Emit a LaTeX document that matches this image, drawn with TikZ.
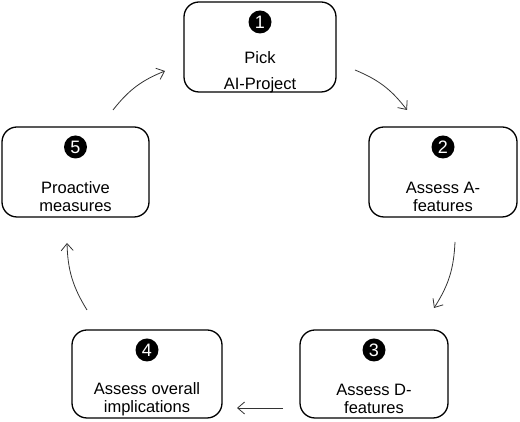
\documentclass[tikz,border=0pt]{standalone}
\usepackage{fontspec}
\setmainfont{Liberation Sans}
\usetikzlibrary{arrows.meta}
\begin{document}
\begin{tikzpicture}[x=1pt,y=1pt,
  stepbox/.style={draw=black,line width=1.3pt,rounded corners=15pt,minimum width=#1,minimum height=90pt,inner sep=0pt},
  numdot/.style={circle,fill=black,minimum size=23pt,inner sep=0pt,text=white,font=\fontsize{18}{18}\selectfont},
  lbl/.style={align=center,font=\fontsize{16.5}{18}\selectfont,inner sep=0pt},
  flow/.style={draw=black!80,line width=0.8pt,-{Straight Barb[length=7pt,width=12pt,line width=0.8pt]}}
]
\useasboundingbox (0,0) rectangle (520,422);
% boxes
\node[stepbox=152pt] (b1) at (260,375) {};
\node[stepbox=148pt] (b2) at (443,250) {};
\node[stepbox=148pt,minimum height=88pt] (b3) at (374,48) {};
\node[stepbox=150pt,minimum height=88pt] (b4) at (147,48) {};
\node[stepbox=147pt] (b5) at (75.5,250) {};
% numbers
\node[numdot] (n1) at ([yshift=25pt]b1.center) {1};
\node[numdot] (n2) at ([yshift=25pt]b2.center) {2};
\node[numdot] (n3) at ([yshift=24pt]b3.center) {3};
\node[numdot] (n4) at ([yshift=24pt]b4.center) {4};
\node[numdot] (n5) at ([yshift=25pt]b5.center) {5};
% labels
\node[lbl] (t1) at ([yshift=-25pt]b1.center) {Pick\\[8pt]AI-Project};
\node[lbl] (t2) at ([yshift=-25pt]b2.center) {Assess A-\\features};
\node[lbl] (t3) at ([yshift=-25pt]b3.center) {Assess D-\\features};
\node[lbl] (t4) at ([yshift=-25pt]b4.center) {Assess overall\\implications};
\node[lbl] (t5) at ([yshift=-25pt]b5.center) {Proactive\\measures};
% arrow ends
\coordinate (a1s) at (355,352); \coordinate (a1e) at (407,312);
\coordinate (a2s) at (455,180); \coordinate (a2e) at (434,114);
\coordinate (a3s) at (283,14);  \coordinate (a3e) at (237,14);
\coordinate (a4s) at (87,112);  \coordinate (a4e) at (67,179);
\coordinate (a5s) at (113,312); \coordinate (a5e) at (165,351);
\draw[flow] (a1s) to[bend left=15] (a1e);
\draw[flow] (a2s) to[bend left=15] (a2e);
\draw[flow] (a3s) -- (a3e);
\draw[flow] (a4s) to[bend left=15] (a4e);
\draw[flow] (a5s) to[bend left=15] (a5e);
\end{tikzpicture}
\end{document}
